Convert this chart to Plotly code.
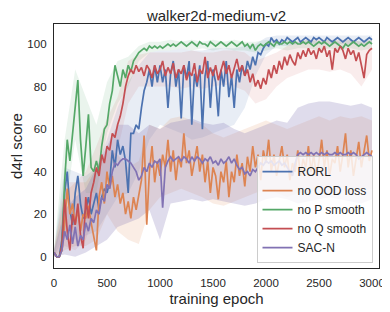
import plotly.graph_objects as go

title = "walker2d-medium-v2"
names = ["RORL", "no OOD loss", "no P smooth", "no Q smooth", "SAC-N"]
colors = ["#4C72B0", "#DD8452", "#55A868", "#C44E52", "#8172B3"]
band_alpha = [0.13, 0.15, 0.12, 0.11, 0.25]

epochs = list(range(0, 3001, 25))

rorl = [2, 0, 0, 8, 30, 40, 22, 15, 30, 38,
        25, 18, 22, 28, 20, 25, 30, 22, 28, 32,
        30, 35, 50, 42, 55, 48, 52, 45, 30, 58,
        58, 62, 60, 70, 78, 82, 88, 80, 90, 82,
        90, 82, 88, 70, 86, 92, 80, 88, 65, 90,
        84, 92, 62, 86, 80, 90, 60, 85, 92, 70,
        88, 82, 66, 88, 80, 92, 75, 85, 70, 88,
        82, 90, 85, 92, 88, 94, 90, 96, 95, 98,
        100, 99, 103, 101, 102, 100, 102, 101, 103, 102,
        101, 102, 103, 101, 102, 103, 102, 101, 103, 102,
        103, 102, 101, 103, 102, 101, 102, 103, 102, 101,
        102, 103, 102, 101, 102, 103, 102, 101, 102, 103,
        102]

no_ood = [2, 0, 0, 3, 15, 32, 20, 25, 15, 22,
          12, 20, 18, 24, 16, 10, 3, 28, 35, 25,
          40, 32, 38, 28, 34, 25, 30, 20, 26, 18,
          28, 22, 30, 36, 57, 15, 40, 52, 35, 45,
          38, 48, 42, 55, 40, 50, 36, 47, 42, 58,
          44, 50, 38, 46, 52, 40, 48, 35, 45, 30,
          42, 38, 27, 40, 35, 45, 28, 40, 35, 48,
          38, 44, 33, 47, 40, 52, 42, 48, 36, 50,
          44, 55, 40, 48, 38, 45, 52, 42, 48, 36,
          44, 40, 50, 38, 46, 42, 52, 40, 48, 38,
          45, 55, 42, 50, 38, 46, 44, 52, 40, 48,
          58, 42, 50, 38, 46, 54, 42, 50, 57, 45,
          50]

no_p = [2, 0, 0, 5, 35, 55, 45, 58, 70, 83,
        55, 38, 52, 67, 42, 40, 45, 40, 52, 60,
        62, 72, 78, 90, 85, 80, 88, 84, 90, 87,
        92, 94, 96, 97, 98, 97, 99, 98, 99, 98,
        99, 98, 99, 100, 99, 100, 99, 100, 101, 100,
        99, 100, 101, 100, 99, 101, 100, 100, 99, 101,
        100, 99, 100, 101, 100, 99, 100, 101, 100, 99,
        100, 101, 99, 100, 98, 100, 97, 99, 100, 99,
        100, 101, 100, 99, 101, 100, 100, 101, 100, 101,
        100, 101, 100, 100, 101, 100, 101, 100, 99, 100,
        101, 100, 101, 100, 99, 100, 101, 100, 99, 98,
        100, 99, 100, 101, 100, 99, 100, 99, 100, 101,
        100]

no_q = [2, 0, 0, 5, 27, 12, 3, 20, 15, 25,
        10, 4, 28, 18, 30, 35, 42, 38, 48, 44,
        52, 50, 58, 56, 62, 66, 72, 80, 85, 88,
        86, 90, 87, 89, 85, 90, 88, 84, 90, 86,
        88, 92, 85, 89, 86, 91, 84, 88, 86, 90,
        83, 87, 85, 91, 82, 88, 86, 94, 84, 89,
        85, 90, 83, 88, 92, 86, 90, 84, 89, 93,
        87, 90, 85, 88, 82, 86, 80, 83, 79, 84,
        81, 88, 84, 90, 86, 92, 88, 94, 90, 95,
        92, 90, 96, 93, 97, 94, 98, 95, 97, 93,
        98, 96, 99, 94, 97, 88, 98, 96, 99, 97,
        93, 98, 95, 97, 92, 96, 90, 84, 95, 97,
        98]

sac_n = [2, 0, 0, 3, 12, 8, 15, 6, 14, 5,
         10, 8, 16, 12, 18, 16, 22, 20, 28, 26,
         34, 32, 40, 44, 43, 45, 46, 46, 45, 44,
         42, 40, 36, 38, 42, 40, 44, 42, 45, 44,
         46, 23, 42, 45, 47, 45, 46, 47, 45, 47,
         46, 44, 47, 45, 47, 46, 44, 46, 45, 47,
         44, 45, 43, 46, 44, 45, 47, 44, 46, 43,
         41, 42, 39, 40, 38, 41, 40, 42, 44, 43,
         45, 44, 45, 43, 44, 45, 43, 44, 42, 40,
         38, 44, 48, 49, 48, 49, 48, 49, 48, 49,
         48, 49, 48, 49, 48, 48, 49, 48, 49, 48,
         48, 49, 48, 49, 48, 46, 47, 48, 49, 48,
         47]

band_epochs = list(range(0, 3001, 100))

rorl_lo = [0, 10, 8, 10, 12, 20, 28, 30, 40, 55, 62, 60, 58, 55, 56, 58,
           60, 62, 70, 85, 95, 99, 99, 100, 100, 100, 100, 100, 100, 100, 100]
rorl_hi = [3, 42, 40, 38, 42, 55, 70, 82, 90, 96, 97, 97, 98, 97, 97, 98,
           98, 98, 99, 100, 103, 104, 104, 104, 104, 104, 104, 104, 104, 104, 104]
no_ood_lo = [0, 3, 5, 5, 8, 20, 12, 8, 6, 22, 28, 30, 32, 30, 28, 25,
             24, 26, 28, 30, 32, 30, 28, 30, 30, 32, 30, 32, 30, 31, 32]
no_ood_hi = [3, 30, 35, 35, 42, 50, 48, 42, 45, 62, 60, 65, 66, 64, 62, 58,
             56, 58, 60, 62, 64, 62, 60, 62, 64, 66, 64, 66, 65, 66, 64]
no_p_lo = [0, 20, 55, 30, 30, 58, 72, 80, 92, 96, 97, 97, 98, 97, 98, 97,
           98, 97, 97, 96, 97, 98, 97, 98, 98, 97, 98, 97, 98, 97, 98]
no_p_hi = [3, 55, 88, 75, 62, 82, 92, 94, 99, 101, 101, 102, 101, 102, 101, 102,
           101, 102, 101, 101, 102, 101, 102, 101, 102, 101, 102, 101, 102, 101, 102]
no_q_lo = [0, 5, 3, 8, 22, 38, 50, 72, 80, 80, 80, 80, 79, 80, 79, 80,
           81, 80, 78, 72, 74, 80, 84, 86, 88, 88, 87, 88, 86, 80, 88]
no_q_hi = [3, 35, 35, 40, 52, 65, 75, 92, 95, 96, 96, 96, 96, 97, 96, 96,
           97, 97, 96, 92, 94, 96, 99, 101, 102, 102, 102, 102, 102, 101, 102]
sac_n_lo = [0, 1, 0, 2, 5, 8, 14, 16, 18, 22, 8, 25, 26, 27, 26, 27,
            26, 25, 24, 25, 27, 28, 27, 25, 26, 27, 28, 27, 26, 25, 27]
sac_n_hi = [3, 22, 28, 32, 42, 52, 62, 62, 58, 62, 60, 63, 64, 65, 63, 62,
            63, 60, 58, 60, 62, 64, 63, 70, 72, 73, 73, 72, 71, 72, 70]

means = [rorl, no_ood, no_p, no_q, sac_n]
lows = [rorl_lo, no_ood_lo, no_p_lo, no_q_lo, sac_n_lo]
highs = [rorl_hi, no_ood_hi, no_p_hi, no_q_hi, sac_n_hi]


def rgba(hexc, a):
    h = hexc.lstrip("#")
    return "rgba(%d,%d,%d,%s)" % (int(h[0:2], 16), int(h[2:4], 16), int(h[4:6], 16), a)


fig = go.Figure()
for c, a, lo, hi in zip(colors, band_alpha, lows, highs):
    fig.add_trace(go.Scatter(
        x=band_epochs + band_epochs[::-1], y=hi + lo[::-1],
        fill="toself", fillcolor=rgba(c, a), line=dict(width=0),
        mode="lines", showlegend=False, hoverinfo="skip"))
for n, c, m in zip(names, colors, means):
    fig.add_trace(go.Scatter(x=epochs, y=m, mode="lines", name=n,
                             line=dict(color=c, width=1.7)))

# the page body has an 8px default margin; the figure is sized to compensate
W, H = 382, 304
font = "Liberation Sans, Arial, sans-serif"
axis_common = dict(showline=True, linecolor="#262626", linewidth=1.3, mirror=True,
                   showgrid=False, zeroline=False, ticks="outside", ticklen=4,
                   tickcolor="rgba(0,0,0,0)", automargin=False,
                   tickfont=dict(size=11.5, color="#262626"))
fig.update_layout(
    width=W, height=H,
    margin=dict(l=46, r=11, t=16, b=44),
    paper_bgcolor="white", plot_bgcolor="white",
    font=dict(family=font, color="#262626"),
    title=dict(text=title, x=0.5, xref="paper", y=1 - 7.5 / H, yref="container",
               yanchor="middle", font=dict(size=15, color="#262626"), automargin=False),
    xaxis=dict(range=[0, 3066], tickvals=[0, 500, 1000, 1500, 2000, 2500, 3000],
               title=dict(text="training epoch", font=dict(size=15), standoff=5),
               **axis_common),
    yaxis=dict(range=[-5.3, 109.4], tickvals=[0, 20, 40, 60, 80, 100],
               title=dict(text="d4rl score", font=dict(size=15), standoff=6),
               **axis_common),
    legend=dict(x=0.98, y=0.02, xanchor="right", yanchor="bottom",
                bgcolor="rgba(255,255,255,0.8)", bordercolor="#cccccc", borderwidth=1,
                font=dict(size=12, color="#262626"), itemwidth=30,
                tracegroupgap=0),
)
fig.write_html("out.html")
